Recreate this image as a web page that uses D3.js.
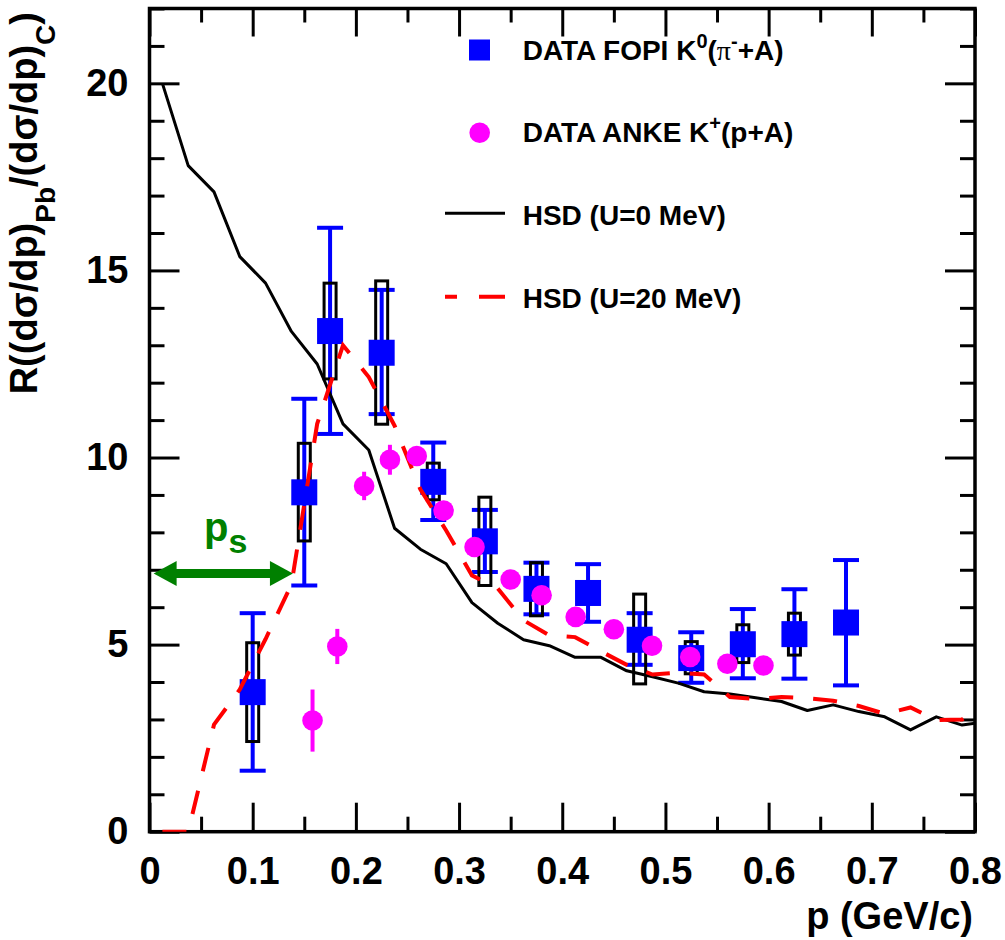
<!DOCTYPE html>
<html>
<head>
<meta charset="utf-8">
<script src="https://cdn.jsdelivr.net/npm/d3@7/dist/d3.min.js"></script>
<style>
  body { margin: 0; background: #fff; }
  svg { display: block; }
  text { font-family: "Liberation Sans", Arial, sans-serif; font-weight: bold; }
</style>
</head>
<body>
<svg id="chart" width="1005" height="940"></svg>
<script>
// ---- FOPI K0 (pi- + A): momentum, ratio, stat. error bounds, syst. box bounds
const fopiP     = [0.100, 0.150, 0.175, 0.225, 0.275, 0.325, 0.375, 0.425, 0.475, 0.525, 0.575, 0.625, 0.675];
const fopiR     = [3.73, 9.07, 13.38, 12.80, 9.35, 7.76, 6.49, 6.38, 5.13, 4.64, 5.01, 5.28, 5.59];
const fopiStatLo = [1.63, 6.58, 10.63, 11.16, 8.33, 6.94, 5.81, 5.61, 4.46, 3.98, 4.10, 4.09, 3.91];
const fopiStatHi = [5.84, 11.57, 16.14, 14.48, 10.40, 8.60, 7.19, 7.15, 5.84, 5.33, 5.95, 6.48, 7.26];
const fopiSysLo  = [2.41, 7.77, 12.10, 10.89, 8.87, 6.58, 5.77, null, 3.95, 4.22, 4.52, 4.72, null];
const fopiSysHi  = [5.05, 10.38, 14.66, 14.72, 9.85, 8.94, 7.19, null, 6.35, 5.08, 5.53, 5.84, null];

// ---- ANKE K+ (p + A)
const ankeP   = [0.158, 0.182, 0.208, 0.233, 0.259, 0.285, 0.315, 0.350, 0.380, 0.413, 0.450, 0.487, 0.524, 0.560, 0.595];
const ankeR   = [2.97, 4.95, 9.24, 9.94, 10.04, 8.58, 7.61, 6.74, 6.32, 5.74, 5.41, 4.97, 4.67, 4.49, 4.44];
const ankeErr = [0.83, 0.47, 0.38, 0.40, 0.25, 0.25, 0.25, 0.25, 0.25, 0.25, 0.25, 0.25, 0.25, 0.25, 0.25];

// ---- HSD transport calculations (bin centres in GeV/c)
const hsdP = [0.0125, 0.0375, 0.0625, 0.0875, 0.1125, 0.1375, 0.1625, 0.1875, 0.2125, 0.2375,
              0.2625, 0.2875, 0.3125, 0.3375, 0.3625, 0.3875, 0.4125, 0.4375, 0.4625, 0.4875,
              0.5125, 0.5375, 0.5625, 0.5875, 0.6125, 0.6375, 0.6625, 0.6875, 0.7125, 0.7375,
              0.7625, 0.7875, 0.8125];
const hsdU0  = [20.0, 17.8, 17.1, 15.37, 14.66, 13.37, 12.5, 10.9, 10.2, 8.11,
                7.55, 7.16, 6.12, 5.57, 5.13, 4.97, 4.66, 4.66, 4.30, 4.14,
                3.97, 3.74, 3.68, 3.58, 3.48, 3.24, 3.39, 3.21, 3.07, 2.72,
                3.07, 2.85, 2.95];
const hsdU20 = [0, 0, 2.86, 3.8, 5.15, 6.6, 10.9, 13.0, 12.15, 10.85,
                9.15, 8.05, 6.85, 6.5, 5.65, 5.25, 5.2, 4.82, 4.46, 4.2,
                4.25, 4.2, 3.6, 3.55, 3.6, 3.57, 3.5, 3.36, 3.15, 3.32,
                2.98, 3.0, 3.5];

// ---- axis ticks
const xMajor = [0, 0.1, 0.2, 0.3, 0.4, 0.5, 0.6, 0.7, 0.8];
const xTickLabels = ["0", "0.1", "0.2", "0.3", "0.4", "0.5", "0.6", "0.7", "0.8"];
const xMinor = [0.05, 0.15, 0.25, 0.35, 0.45, 0.55, 0.65, 0.75];
const yMajor = [0, 5, 10, 15, 20];
const yTickLabels = ["0", "5", "10", "15", "20"];
const yMinor = [1, 2, 3, 4, 6, 7, 8, 9, 11, 12, 13, 14, 16, 17, 18, 19, 21, 22];

// ---- momentum threshold marker
const psRange = [0.004, 0.139];
const psLevel = 6.9;

const svg = d3.select("#chart");
const x = d3.scaleLinear().domain([0, 0.8]).range([149.5, 975]);
const y = d3.scaleLinear().domain([0, 22]).range([831.7, 8.5]);

const BLUE = "#0000ff", MAGENTA = "#ff00ff", RED = "#ff0000", GREEN = "#008000";
const FONT = '"Liberation Sans", Arial, sans-serif';

svg.append("defs").append("clipPath").attr("id", "plotclip")
  .append("rect")
  .attr("x", x(0)).attr("y", y(22))
  .attr("width", x(0.8) - x(0)).attr("height", y(0) - y(22));

// ---- axes (ticks point inwards on all four sides)
function styleAxis(g, withLabels, size) {
  g.select(".domain").remove();
  g.selectAll(".tick line").attr("stroke", "#000").attr("stroke-width", 3);
  g.selectAll(".tick text")
    .attr("font-family", FONT).attr("font-weight", "bold")
    .attr("font-size", size || 38).attr("fill", "#000");
  if (!withLabels) g.selectAll(".tick text").remove();
}

const axes = svg.append("g");
const b1 = axes.append("g").attr("transform", `translate(0,${y(0)})`)
  .call(d3.axisBottom(x).tickValues(xMajor).tickSize(-29).tickPadding(25)
        .tickFormat((d, i) => xTickLabels[i]));
styleAxis(b1, true);
const b2 = axes.append("g").attr("transform", `translate(0,${y(0)})`)
  .call(d3.axisBottom(x).tickValues(xMinor).tickSize(-15));
styleAxis(b2, false);
const t1 = axes.append("g").attr("transform", `translate(0,${y(22)})`)
  .call(d3.axisTop(x).tickValues(xMajor).tickSize(-28));
styleAxis(t1, false);
const t2 = axes.append("g").attr("transform", `translate(0,${y(22)})`)
  .call(d3.axisTop(x).tickValues(xMinor).tickSize(-14));
styleAxis(t2, false);

const l1 = axes.append("g").attr("transform", `translate(${x(0)},0)`)
  .call(d3.axisLeft(y).tickValues(yMajor).tickSize(-30).tickPadding(21)
        .tickFormat((d, i) => yTickLabels[i]));
styleAxis(l1, true);
const l2 = axes.append("g").attr("transform", `translate(${x(0)},0)`)
  .call(d3.axisLeft(y).tickValues(yMinor).tickSize(-15));
styleAxis(l2, false);
const r1 = axes.append("g").attr("transform", `translate(${x(0.8)},0)`)
  .call(d3.axisRight(y).tickValues(yMajor).tickSize(-30));
styleAxis(r1, false);
const r2 = axes.append("g").attr("transform", `translate(${x(0.8)},0)`)
  .call(d3.axisRight(y).tickValues(yMinor).tickSize(-15));
styleAxis(r2, false);

axes.append("rect")
  .attr("x", x(0)).attr("y", y(22))
  .attr("width", x(0.8) - x(0)).attr("height", y(0) - y(22))
  .attr("fill", "none").attr("stroke", "#000").attr("stroke-width", 3.5);

// ---- axis titles
svg.append("text")
  .attr("x", 973).attr("y", 929)
  .attr("text-anchor", "end").attr("font-size", 38)
  .text("p (GeV/c)");

const yTitle = svg.append("text")
  .attr("transform", "translate(37,12) rotate(-90)")
  .attr("text-anchor", "end").attr("font-size", 38);
yTitle.append("tspan").text("R((dσ/dp)");
yTitle.append("tspan").attr("font-size", 28).attr("dy", 18).text("Pb");
yTitle.append("tspan").attr("dy", -18).text("/(dσ/dp)");
yTitle.append("tspan").attr("font-size", 28).attr("dy", 18).text("C");
yTitle.append("tspan").attr("dy", -18).text(")");

// ---- FOPI data: stat. error bars, syst. boxes, markers
const fopi = fopiP.map((p, i) => ({
  p, r: fopiR[i], lo: fopiStatLo[i], hi: fopiStatHi[i], sLo: fopiSysLo[i], sHi: fopiSysHi[i]
}));
const gF = svg.append("g");
gF.selectAll("line.err").data(fopi).join("line").attr("class", "err")
  .attr("x1", d => x(d.p)).attr("x2", d => x(d.p))
  .attr("y1", d => y(d.lo)).attr("y2", d => y(d.hi))
  .attr("stroke", BLUE).attr("stroke-width", 4);
["lo", "hi"].forEach(k => {
  gF.selectAll("line.cap" + k).data(fopi).join("line").attr("class", "cap" + k)
    .attr("x1", d => x(d.p) - 13).attr("x2", d => x(d.p) + 13)
    .attr("y1", d => y(d[k])).attr("y2", d => y(d[k]))
    .attr("stroke", BLUE).attr("stroke-width", 4);
});
gF.selectAll("rect.sys").data(fopi.filter(d => d.sLo !== null)).join("rect").attr("class", "sys")
  .attr("x", d => x(d.p) - 6).attr("width", 12)
  .attr("y", d => y(d.sHi)).attr("height", d => y(d.sLo) - y(d.sHi))
  .attr("fill", "none").attr("stroke", "#000").attr("stroke-width", 3);
gF.selectAll("rect.mk").data(fopi).join("rect").attr("class", "mk")
  .attr("x", d => x(d.p) - 13).attr("y", d => y(d.r) - 13)
  .attr("width", 26).attr("height", 26).attr("fill", BLUE);

// ---- HSD curves
const line = d3.line().x(d => x(d[0])).y(d => y(d[1]));
const gL = svg.append("g").attr("clip-path", "url(#plotclip)");
gL.append("path")
  .attr("d", line(hsdP.map((p, i) => [p, hsdU0[i]])))
  .attr("fill", "none").attr("stroke", "#000").attr("stroke-width", 3)
  .attr("stroke-linejoin", "round");
gL.append("path")
  .attr("d", line(hsdP.map((p, i) => [p, hsdU20[i]])))
  .attr("fill", "none").attr("stroke", RED).attr("stroke-width", 4)
  .attr("stroke-dasharray", "24,20");

// ---- ANKE data
const anke = ankeP.map((p, i) => ({ p, r: ankeR[i], e: ankeErr[i] }));
const gA = svg.append("g");
gA.selectAll("line").data(anke).join("line")
  .attr("x1", d => x(d.p)).attr("x2", d => x(d.p))
  .attr("y1", d => y(d.r - d.e)).attr("y2", d => y(d.r + d.e))
  .attr("stroke", MAGENTA).attr("stroke-width", 4);
gA.selectAll("circle").data(anke).join("circle")
  .attr("cx", d => x(d.p)).attr("cy", d => y(d.r)).attr("r", 10.3)
  .attr("fill", MAGENTA);

// ---- p_s threshold arrow
const ax0 = x(psRange[0]), ax1 = x(psRange[1]), ay = y(psLevel);
const gP = svg.append("g").attr("fill", GREEN);
gP.append("line").attr("x1", ax0 + 18).attr("x2", ax1 - 18).attr("y1", ay).attr("y2", ay)
  .attr("stroke", GREEN).attr("stroke-width", 9);
gP.append("path").attr("d", `M${ax0},${ay} L${ax0 + 23},${ay - 12.5} L${ax0 + 23},${ay + 12.5} Z`);
gP.append("path").attr("d", `M${ax1},${ay} L${ax1 - 23},${ay - 12.5} L${ax1 - 23},${ay + 12.5} Z`);
const psText = gP.append("text").attr("x", 204).attr("y", 541).attr("font-size", 40);
psText.append("tspan").text("p");
psText.append("tspan").attr("font-size", 34).attr("dy", 12).text("s");

// ---- legend
const lg = svg.append("g");
const lgX = 522.7, rows = [60, 141.7, 225, 308];
lg.append("rect").attr("x", 469).attr("y", 39.5).attr("width", 21).attr("height", 21).attr("fill", BLUE);
lg.append("circle").attr("cx", 479.7).attr("cy", 132.7).attr("r", 10.3).attr("fill", MAGENTA);
lg.append("line").attr("x1", 445).attr("x2", 505).attr("y1", 213.3).attr("y2", 213.3)
  .attr("stroke", "#000").attr("stroke-width", 3);
lg.append("line").attr("x1", 445).attr("x2", 505).attr("y1", 296.7).attr("y2", 296.7)
  .attr("stroke", RED).attr("stroke-width", 4)
  .attr("stroke-dasharray", "26,22").attr("stroke-dashoffset", 14);

const t0 = lg.append("text").attr("x", lgX).attr("y", rows[0]).attr("font-size", 28);
t0.append("tspan").text("DATA FOPI K");
t0.append("tspan").attr("font-size", 20).attr("dy", -12).text("0");
t0.append("tspan").attr("dy", 12).text("(");
t0.append("tspan").attr("font-family", '"Liberation Serif", serif').attr("font-weight", "normal").text("π");
t0.append("tspan").attr("font-size", 20).attr("dy", -12).text("-");
t0.append("tspan").attr("dy", 12).text("+A)");

const tA = lg.append("text").attr("x", lgX).attr("y", rows[1]).attr("font-size", 28);
tA.append("tspan").text("DATA ANKE K");
tA.append("tspan").attr("font-size", 20).attr("dy", -12).text("+");
tA.append("tspan").attr("dy", 12).text("(p+A)");

lg.append("text").attr("x", lgX).attr("y", rows[2]).attr("font-size", 28).text("HSD (U=0 MeV)");
lg.append("text").attr("x", lgX).attr("y", rows[3]).attr("font-size", 28).text("HSD (U=20 MeV)");
</script>
</body>
</html>
